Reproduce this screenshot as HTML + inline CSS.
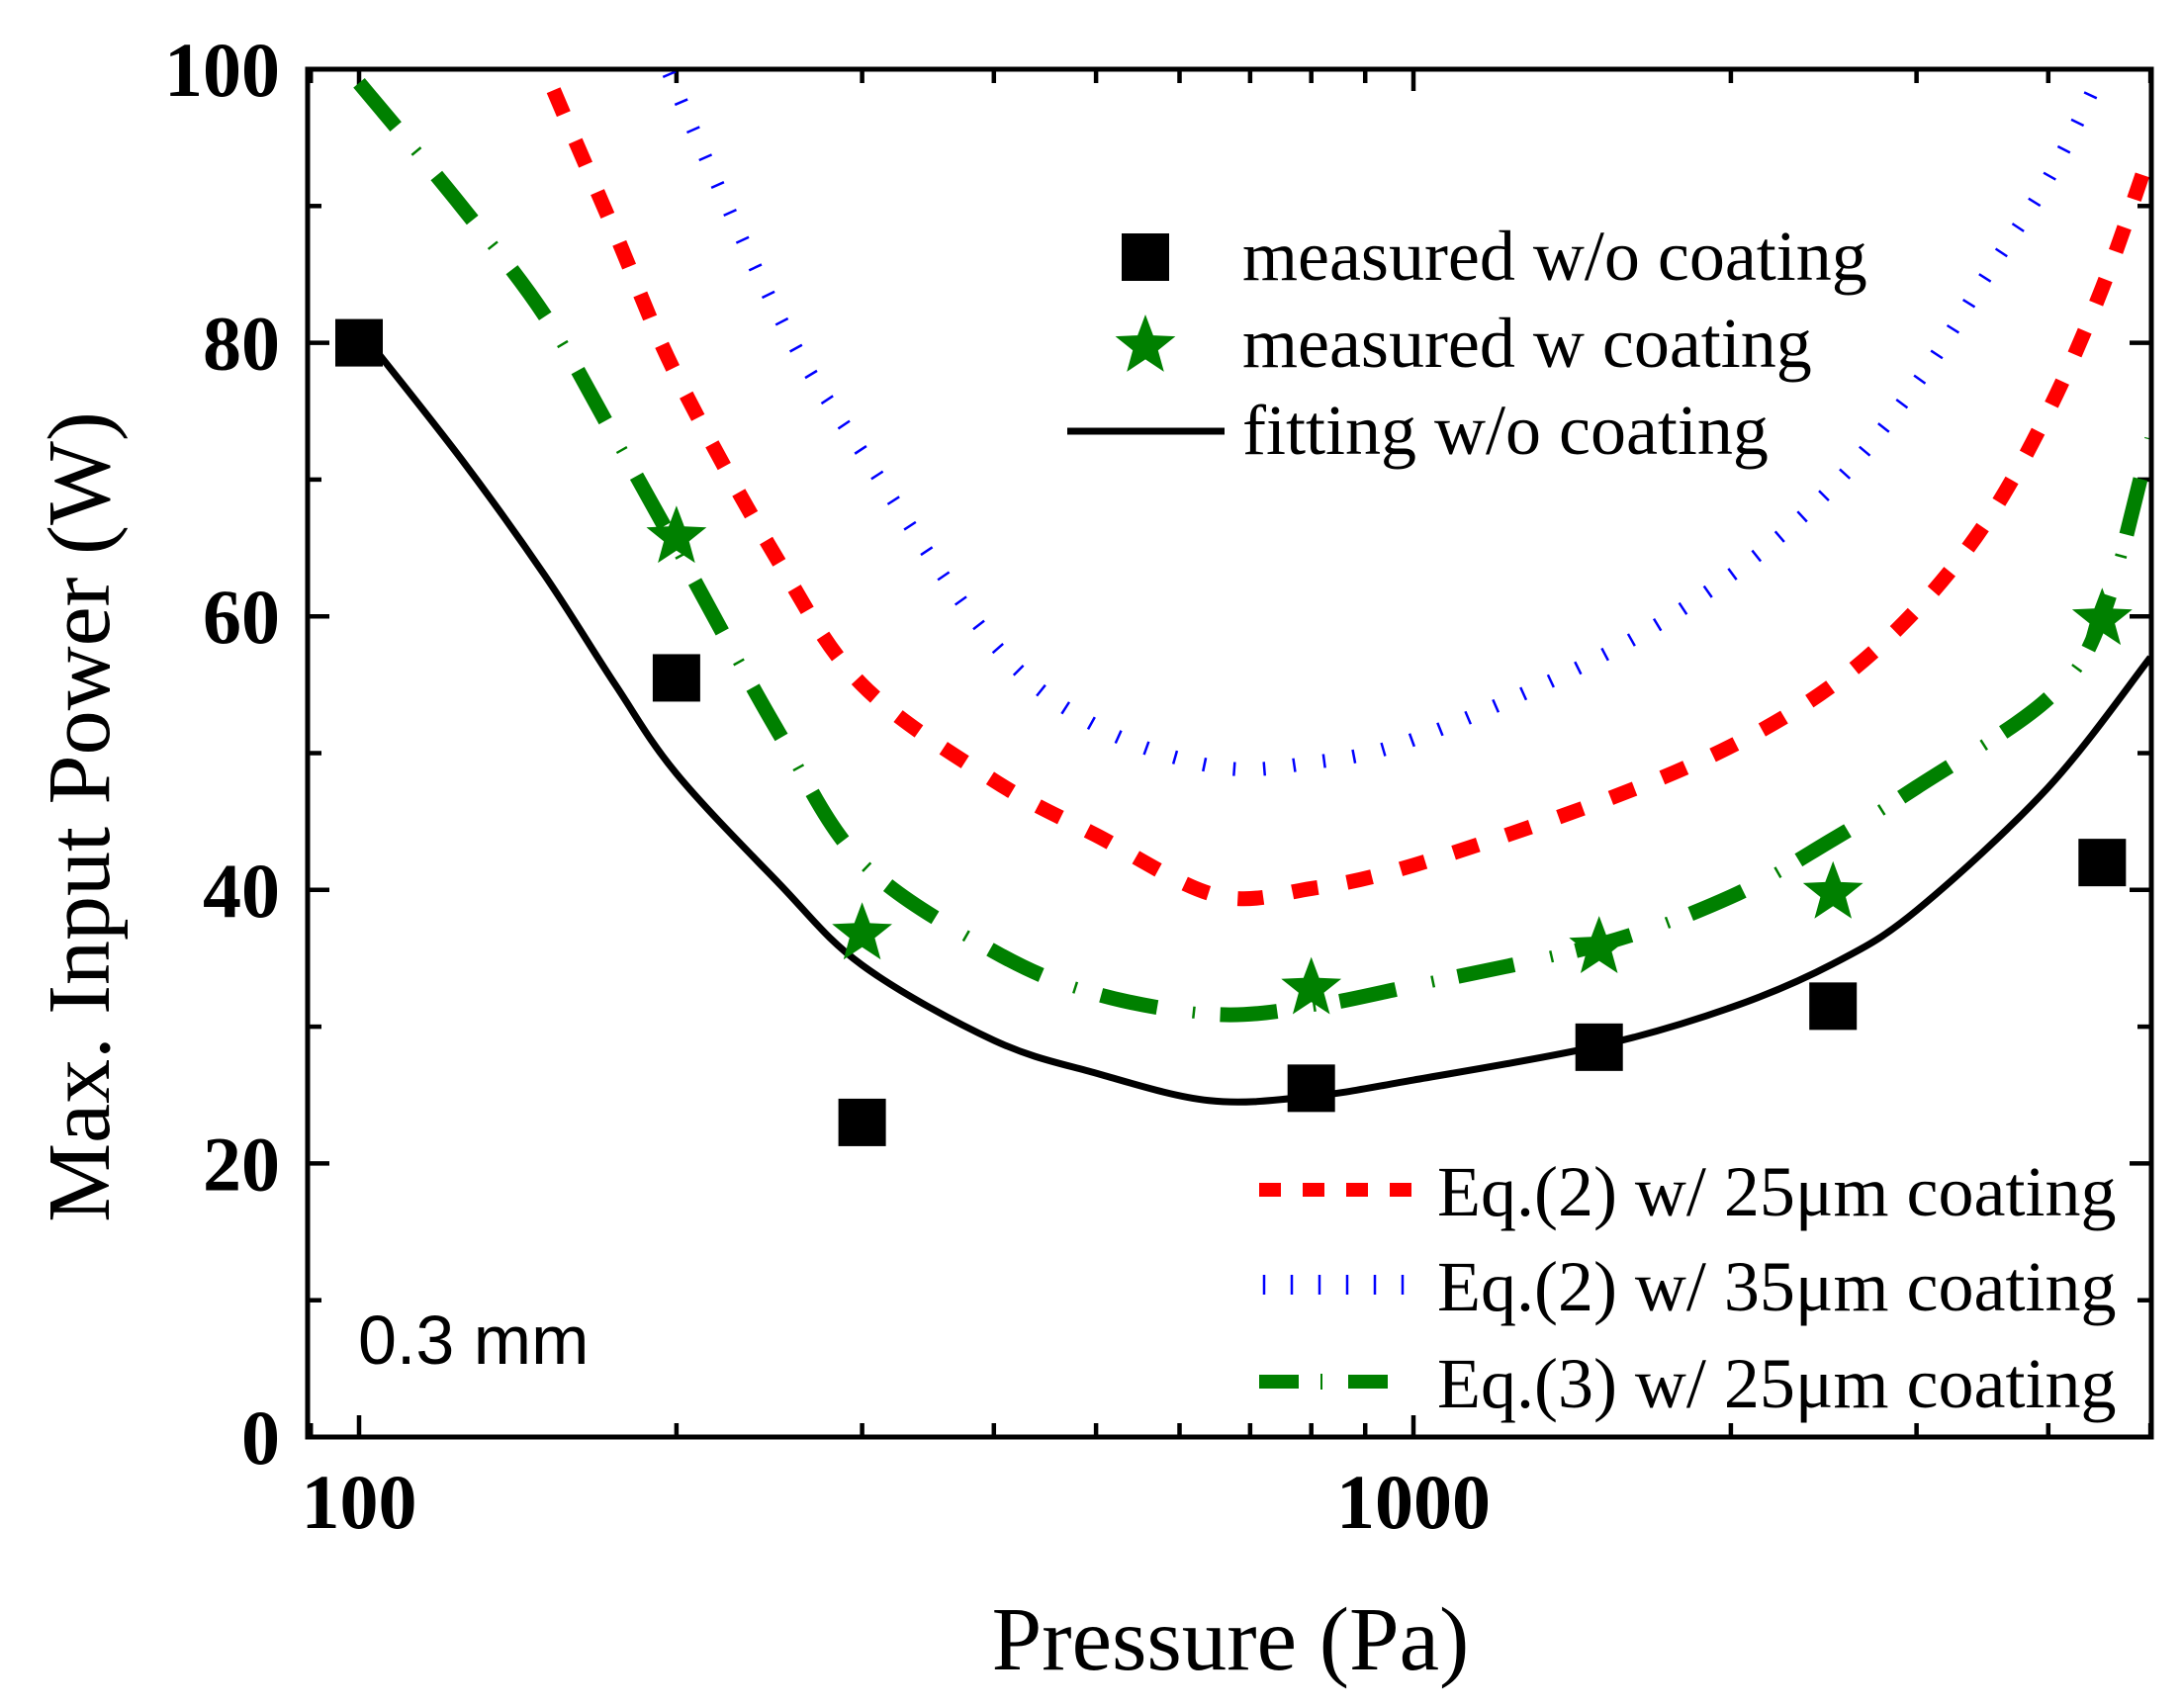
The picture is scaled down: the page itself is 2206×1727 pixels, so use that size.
<!DOCTYPE html>
<html><head><meta charset="utf-8"><style>
html,body{margin:0;padding:0;background:#fff;}
svg{display:block;}
text{font-family:"Liberation Serif",serif;}
</style></head><body>
<svg id="chart" width="2206" height="1727" viewBox="0 0 2206 1727" xmlns="http://www.w3.org/2000/svg">
<defs><clipPath id="plotclip"><rect x="311" y="70" width="1864" height="1383"/></clipPath></defs>
<g id="ticks"></g>
<g id="series" clip-path="url(#plotclip)"></g>
<g id="markers"></g>
<rect x="311" y="70" width="1864" height="1383" fill="none" stroke="#000" stroke-width="5"/>
<g id="labels"></g>
<text x="1244" y="1688" font-size="91" text-anchor="middle">Pressure (Pa)</text>
<text transform="translate(110,826) rotate(-90)" font-size="90" text-anchor="middle">Max. Input Power (W)</text>
<text x="362" y="1379" font-size="70" style="font-family:'Liberation Sans',sans-serif">0.3 mm</text>
<g>
 <g>
  <rect x="1134" y="236" width="48" height="48" fill="#000"/>
  <text x="1256" y="283" font-size="72">measured w/o coating</text>
 </g>
 <g>
  <polygon id="legstar" fill="#008000"/>
  <text x="1256" y="371" font-size="72">measured w coating</text>
 </g>
 <g>
  <line x1="1079" y1="436" x2="1238" y2="436" stroke="#000" stroke-width="7"/>
  <text x="1256" y="459" font-size="72">fitting w/o coating</text>
 </g>
</g>
<g>
 <g>
  <line x1="1273" y1="1203" x2="1435" y2="1203" stroke="#f00" stroke-width="14" stroke-dasharray="22,22"/>
  <text x="1453" y="1229" font-size="72">Eq.(2) w/ 25μm coating</text>
 </g>
 <g>
  <g stroke="#00f" stroke-width="2.5"><line x1="1278" y1="1289" x2="1278" y2="1309"/><line x1="1306" y1="1289" x2="1306" y2="1309"/><line x1="1334" y1="1289" x2="1334" y2="1309"/><line x1="1362" y1="1289" x2="1362" y2="1309"/><line x1="1390" y1="1289" x2="1390" y2="1309"/><line x1="1418" y1="1289" x2="1418" y2="1309"/></g>
  <text x="1453" y="1325" font-size="72">Eq.(2) w/ 35μm coating</text>
 </g>
 <g>
  <line x1="1273" y1="1397" x2="1435" y2="1397" stroke="#008000" stroke-width="14" stroke-dasharray="40,50"/>
  <line x1="1336" y1="1389" x2="1336" y2="1405" stroke="#008000" stroke-width="2"/>
  <text x="1453" y="1423" font-size="72">Eq.(3) w/ 25μm coating</text>
 </g>
</g>
</svg>
<script>
// ---- data ----
const squareX = [100, 200, 300, 800, 1500, 2500, 4500];
const squareY = [80, 55.5, 23, 25.5, 28.5, 31.5, 42];
const starX = [200, 300, 800, 1500, 2500, 4500];
const starY = [66, 37, 33, 36, 40, 60];
const fitX = [100, 125, 150, 175, 200, 250, 300, 400, 500, 640, 800, 1000, 1500, 2000, 2500, 3000, 4000, 5000];
const fitY = [81, 71.5, 63, 55, 48.5, 40.5, 34.5, 29, 26.6, 24.6, 24.9, 26.1, 28.6, 31.4, 34.6, 38.5, 47.5, 57];
const eq3X = [100, 125, 150, 175, 200, 250, 300, 400, 500, 650, 800, 1000, 1500, 2000, 2500, 3000, 4000, 4500, 5000];
const eq3Y = [99, 90, 82, 73, 65, 51.5, 42, 35.5, 32.4, 30.9, 31.5, 33, 36, 39.5, 43.7, 47.5, 54, 60, 73];
const eq2aX = [140, 150, 175, 200, 250, 300, 400, 500, 650, 800, 1000, 1500, 2000, 2500, 3000, 3500, 4000, 4500, 5000];
const eq2aY = [106, 100, 88, 77.6, 64, 55, 48, 44, 39.6, 40.1, 41.8, 46.4, 50.5, 55, 60.5, 67, 75, 84, 94];
const eq2bX = [180, 196, 250, 300, 400, 500, 650, 800, 1000, 1500, 2000, 2500, 3000, 3500, 4000, 4500, 4800];
const eq2bY = [108, 100, 82, 72, 58, 52, 49, 49.3, 51, 57, 63, 69.5, 77, 85, 92, 100, 106];
const yTicks = [0, 20, 40, 60, 80, 100];
const xTicks = [100, 1000];

// ---- axes ----
const L=311,R=2175,T=70,B=1453;
const X0=363, DEC=1066;
const sx = v => X0 + (Math.log10(v)-2)*DEC;
const sy = v => B - v*(B-T)/100;
const NS="http://www.w3.org/2000/svg";
function mk(tag, attrs, parent){const e=document.createElementNS(NS,tag);for(const k in attrs)e.setAttribute(k,attrs[k]);parent.appendChild(e);return e;}

const tk=document.getElementById('ticks'), lb=document.getElementById('labels');
for(let v=0;v<=100;v+=10){
  const y=sy(v), len=(v%20===0)?22:14;
  const a=mk('line',{x1:L,y1:y,x2:L+len,y2:y,stroke:'#000','stroke-width':4.5},tk);
  
  
  const b=mk('line',{x1:R,y1:y,x2:R-len,y2:y,stroke:'#000','stroke-width':4.5},tk);
  
  
}
yTicks.forEach(v=>{
  const t=mk('text',{x:283,y:sy(v)+27,'font-size':78,'font-weight':'bold','text-anchor':'end'},lb);
  t.textContent=v;
  
  
});
const minors=[90,100,200,300,400,500,600,700,800,900,1000,2000,3000,4000,5000];
minors.forEach(v=>{
  const x=sx(v); if(x<L||x>R) return;
  const len=(v===100||v===1000)?22:14;
  const a=mk('line',{x1:x,y1:B,x2:x,y2:B-len,stroke:'#000','stroke-width':4.5},tk);
  
  
  const b=mk('line',{x1:x,y1:T,x2:x,y2:T+len,stroke:'#000','stroke-width':4.5},tk);
  
  
});
xTicks.forEach(v=>{
  const t=mk('text',{x:sx(v),y:1545,'font-size':78,'font-weight':'bold','text-anchor':'middle'},lb);
  t.textContent=v;
  
  
});

// ---- curves (Catmull-Rom through data points) ----
function pathD(xs,ys){
  const p=xs.map((x,i)=>[sx(x),sy(ys[i])]);
  let d=`M${p[0][0]},${p[0][1]}`;
  for(let i=0;i<p.length-1;i++){
    const p0=p[i-1]||p[i],p1=p[i],p2=p[i+1],p3=p[i+2]||p2;
    const c1=[p1[0]+(p2[0]-p0[0])/6,p1[1]+(p2[1]-p0[1])/6];
    const c2=[p2[0]-(p3[0]-p1[0])/6,p2[1]-(p3[1]-p1[1])/6];
    d+=` C${c1[0]},${c1[1]} ${c2[0]},${c2[1]} ${p2[0]},${p2[1]}`;
  }
  return d;
}
const sg=document.getElementById('series');
let e;
e=mk('path',{d:pathD(eq2bX,eq2bY),fill:'none',stroke:'#00f','stroke-width':14,'stroke-dasharray':'2.5,28'},sg);


e=mk('path',{d:pathD(eq2aX,eq2aY),fill:'none',stroke:'#f00','stroke-width':15,'stroke-dasharray':'26,30'},sg);


e=mk('path',{d:pathD(eq3X,eq3Y),fill:'none',stroke:'#008000','stroke-width':15,'stroke-dasharray':'58,64'},sg);


e=mk('path',{d:pathD(eq3X,eq3Y),fill:'none',stroke:'#008000','stroke-width':12,'stroke-dasharray':'0,89,2.5,31'},sg);


e=mk('path',{d:pathD(fitX,fitY),fill:'none',stroke:'#000','stroke-width':7},sg);



// ---- markers ----
function starPts(cx,cy,r){
  const pts=[];
  for(let i=0;i<10;i++){const rr=i%2?r*0.42:r;const a=-Math.PI/2+i*Math.PI/5;pts.push((cx+rr*Math.cos(a)).toFixed(1)+','+(cy+rr*Math.sin(a)).toFixed(1));}
  return pts.join(' ');
}
const mg=document.getElementById('markers');
squareX.forEach((x,i)=>{
  const r=mk('rect',{x:sx(x)-24,y:sy(squareY[i])-24,width:48,height:48,fill:'#000'},mg);
  
  
});
starX.forEach((x,i)=>{
  const s=mk('polygon',{points:starPts(sx(x),sy(starY[i])+3,32),fill:'#008000'},mg);
  
  
});
document.getElementById('legstar').setAttribute('points',starPts(1158,350,32));
</script>
</body></html>
